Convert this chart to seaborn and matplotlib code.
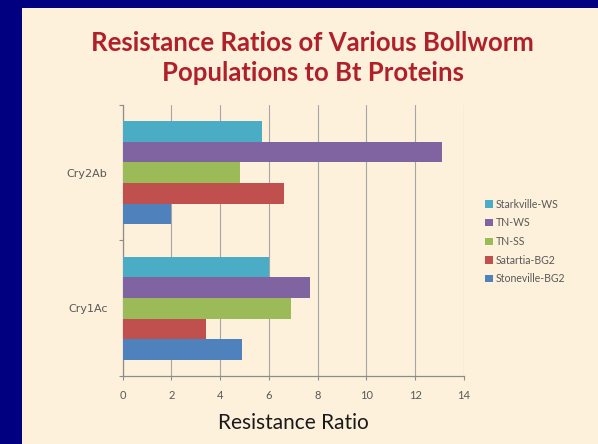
import matplotlib
matplotlib.use("Agg")
import matplotlib.pyplot as plt
from matplotlib.patches import Rectangle
import seaborn as sns
import pandas as pd

# Bt proteins and bollworm populations
proteins = ["Cry2Ab", "Cry1Ac"]
populations = ["Starkville-WS", "TN-WS", "TN-SS", "Satartia-BG2", "Stoneville-BG2"]
ratios_cry2ab = [5.7, 13.1, 4.8, 6.6, 2.0]
ratios_cry1ac = [6.0, 7.7, 6.9, 3.4, 4.9]
bar_colors = ["#4BACC6", "#8064A2", "#9BBB59", "#C0504D", "#4F81BD"]
x_ticks = [0, 2, 4, 6, 8, 10, 12, 14]

rows = []
for prot, vals in zip(proteins, [ratios_cry2ab, ratios_cry1ac]):
    for pop, v in zip(populations, vals):
        rows.append({"protein": prot, "population": pop, "ratio": v})
df = pd.DataFrame(rows)

sns.set_theme(style="white")
plt.rcParams["font.family"] = ["Lato", "DejaVu Sans"]

fig = plt.figure(figsize=(5.98, 4.44), dpi=100)
fig.patch.set_facecolor("#000080")
fig.patches.append(Rectangle((22 / 598, 0), 1 - 22 / 598, 1 - 8 / 444,
                             transform=fig.transFigure, facecolor="#FDF1DC",
                             edgecolor="none", zorder=-5))

ax = fig.add_axes([122.7 / 598, 1 - 376 / 444, (464 - 122.7) / 598, (376 - 105) / 444])
ax.set_facecolor("none")
ax.set_zorder(2)

sns.barplot(data=df, y="protein", x="ratio", hue="population",
            order=proteins, hue_order=populations, palette=bar_colors,
            orient="h", width=0.76, saturation=1, ax=ax, legend=True,
            edgecolor="none", linewidth=0, zorder=3)

ax.set_xlim(0, 14)
ax.set_ylim(1.5, -0.5)
ax.set_xticks(x_ticks)
ax.set_xticklabels([str(t) for t in x_ticks])
ax.xaxis.grid(True, color="#A6A6A6", linewidth=0.8, zorder=0)
ax.set_axisbelow(True)

for s in ["top", "right"]:
    ax.spines[s].set_visible(False)
for s in ["left", "bottom"]:
    ax.spines[s].set_color("#8C8C8C")
    ax.spines[s].set_linewidth(0.9)

ax.tick_params(axis="x", colors="#595959", labelsize=8, length=3,
               width=0.8, direction="out", pad=7, bottom=True)
ax.tick_params(axis="x", color="#8C8C8C")
ax.tick_params(axis="y", colors="#595959", length=0, pad=11)
for lbl in ax.get_yticklabels():
    lbl.set_fontfamily("DejaVu Sans")
    lbl.set_fontsize(8)
ax.set_yticks([-0.5, 0.5, 1.5], minor=True)
ax.tick_params(axis="y", which="minor", length=3, width=0.8, color="#8C8C8C", left=True)

ax.set_ylabel("")
ax.set_xlabel("Resistance Ratio", fontsize=15, color="#1A1A1A", labelpad=9)

handles, labels = ax.get_legend_handles_labels()
ax.legend(handles, labels, loc="center left", bbox_to_anchor=(1.05, 0.496),
          frameon=False, fontsize=7.6, labelcolor="#595959",
          handlelength=0.7, handleheight=0.7, handletextpad=0.3,
          labelspacing=0.72, borderaxespad=0)

fig.text(0.5226, 1 - 43 / 444, "Resistance Ratios of Various Bollworm",
         ha="center", va="center", fontsize=18.5, fontweight="bold", color="#B0202A")
fig.text(0.5226, 1 - 73 / 444, "Populations to Bt Proteins",
         ha="center", va="center", fontsize=18.5, fontweight="bold", color="#B0202A")

fig.savefig("out.png", dpi=100, facecolor=fig.get_facecolor())
